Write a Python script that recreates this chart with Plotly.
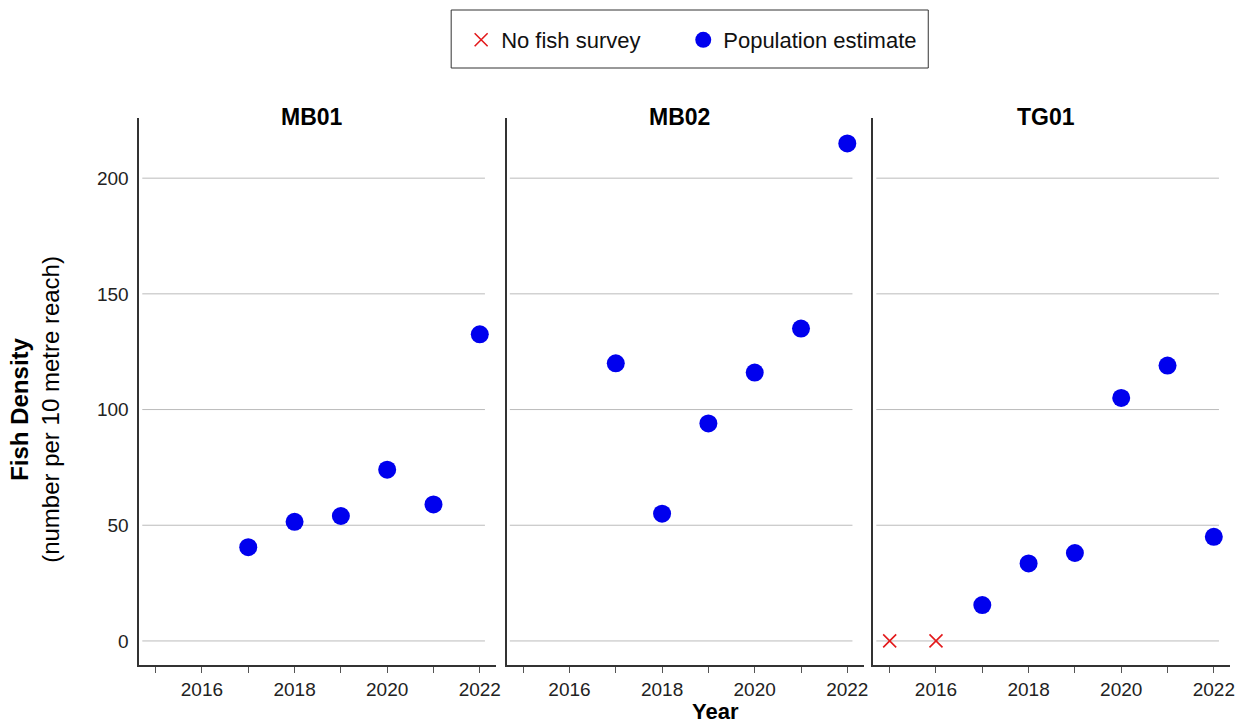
import plotly.graph_objects as go

sites = ["MB01", "MB02", "TG01"]
years = [2017, 2018, 2019, 2020, 2021, 2022]
mb01 = [40.5, 51.5, 54, 74, 59, 132.5]
mb02 = [120, 55, 94, 116, 135, 215]
tg01 = [15.5, 33.5, 38, 105, 119, 45]
no_survey_years = {"MB01": [None], "MB02": [None], "TG01": [2015, 2016]}
no_survey_vals = {"MB01": [None], "MB02": [None], "TG01": [0, 0]}
values = {"MB01": mb01, "MB02": mb02, "TG01": tg01}
y_ticks = [0, 50, 100, 150, 200]
x_ticks = [2016, 2018, 2020, 2022]

W, H = 1244, 724
FONT = "Liberation Sans, Arial, sans-serif"
fig = go.Figure()

doms = [(140, 498), (509, 867), (877, 1235)]
ydom = [1 - 665 / H, 1 - 118 / H]

for i, s in enumerate(sites):
    xa = "x" if i == 0 else f"x{i+1}"
    ya = "y" if i == 0 else f"y{i+1}"
    fig.add_trace(go.Scatter(
        x=no_survey_years[s], y=no_survey_vals[s],
        mode="markers", name="No fish survey",
        marker=dict(symbol="x-thin-open", size=13, color="#e31a1c", line=dict(color="#e31a1c", width=1.6)),
        showlegend=(i == 0), xaxis=xa, yaxis=ya, legend="legend"))
    fig.add_trace(go.Scatter(
        x=years, y=values[s], mode="markers", name="Population estimate",
        marker=dict(symbol="circle", size=18, color="#0000ee"),
        showlegend=(i == 0), xaxis=xa, yaxis=ya, legend="legend2"))

    key = "" if i == 0 else str(i + 1)
    d0, d1 = doms[i]
    fig.update_layout(**{
        f"xaxis{key}": dict(
            domain=[d0 / W, d1 / W], range=[2014.65, 2022.35], anchor=ya,
            tickvals=x_ticks, ticks="outside", ticklen=6, tickcolor="#555", tickwidth=1,
            minor=dict(dtick=1, tick0=2015, ticks="outside", ticklen=6, tickcolor="#555", tickwidth=1),
            showgrid=False, zeroline=False, showline=True, linecolor="#333", linewidth=2,
            tickfont=dict(size=19, color="#222", family=FONT)),
        f"yaxis{key}": dict(
            domain=ydom, range=[-10.4, 226], anchor=xa,
            tickvals=y_ticks, showticklabels=(i == 0), ticks="",
            showgrid=False, zeroline=False, showline=True, linecolor="#333", linewidth=2,
            tickfont=dict(size=19, color="#222", family=FONT), ticklabelstandoff=5),
    })
    for v in y_ticks:
        fig.add_shape(type="line", xref=f"{xa} domain", yref=ya, x0=0.008, x1=0.969, y0=v, y1=v,
                      line=dict(color="#bbbbbb", width=1), layer="below")
    fig.add_annotation(text=f"<b>{s}</b>", xref="paper", yref="paper",
                       x=(d0 + (d1 - d0) * 0.485) / W, y=1 - 117 / H, showarrow=False,
                       font=dict(size=23, color="black", family=FONT), xanchor="center", yanchor="middle")

fig.add_annotation(text="<b>Year</b>", xref="paper", yref="paper", x=718 / W, y=1 - 711 / H,
                   showarrow=False, font=dict(size=22, color="black", family=FONT),
                   xanchor="center", yanchor="middle")
fig.add_annotation(text="<b>Fish Density</b><br>(number per 10 metre reach)", xref="paper", yref="paper",
                   x=35 / W, y=1 - 409 / H, textangle=-90, showarrow=False,
                   font=dict(size=24, color="black", family=FONT), xanchor="center", yanchor="middle")

# legend frame
fig.add_shape(type="rect", xref="paper", yref="paper", x0=453 / W, x1=932 / W, y0=1 - 68 / H, y1=1 - 10 / H,
              line=dict(color="#333", width=1), fillcolor="white", layer="below")

leg_common = dict(orientation="h", xanchor="left", y=1 - 40 / H, yanchor="middle",
                  borderwidth=0, bgcolor="rgba(0,0,0,0)",
                  font=dict(size=22, color="#111", family=FONT), itemsizing="trace")
fig.update_layout(
    width=W, height=H, margin=dict(l=0, r=0, t=0, b=0),
    paper_bgcolor="white", plot_bgcolor="white",
    font=dict(family=FONT, color="black"),
    showlegend=True,
    legend=dict(x=463 / W, **leg_common),
    legend2=dict(x=686 / W, **leg_common),
)
fig.write_html("out.html", config={"displayModeBar": False},
               post_script="document.body.style.margin='0';document.body.style.padding='0';")
